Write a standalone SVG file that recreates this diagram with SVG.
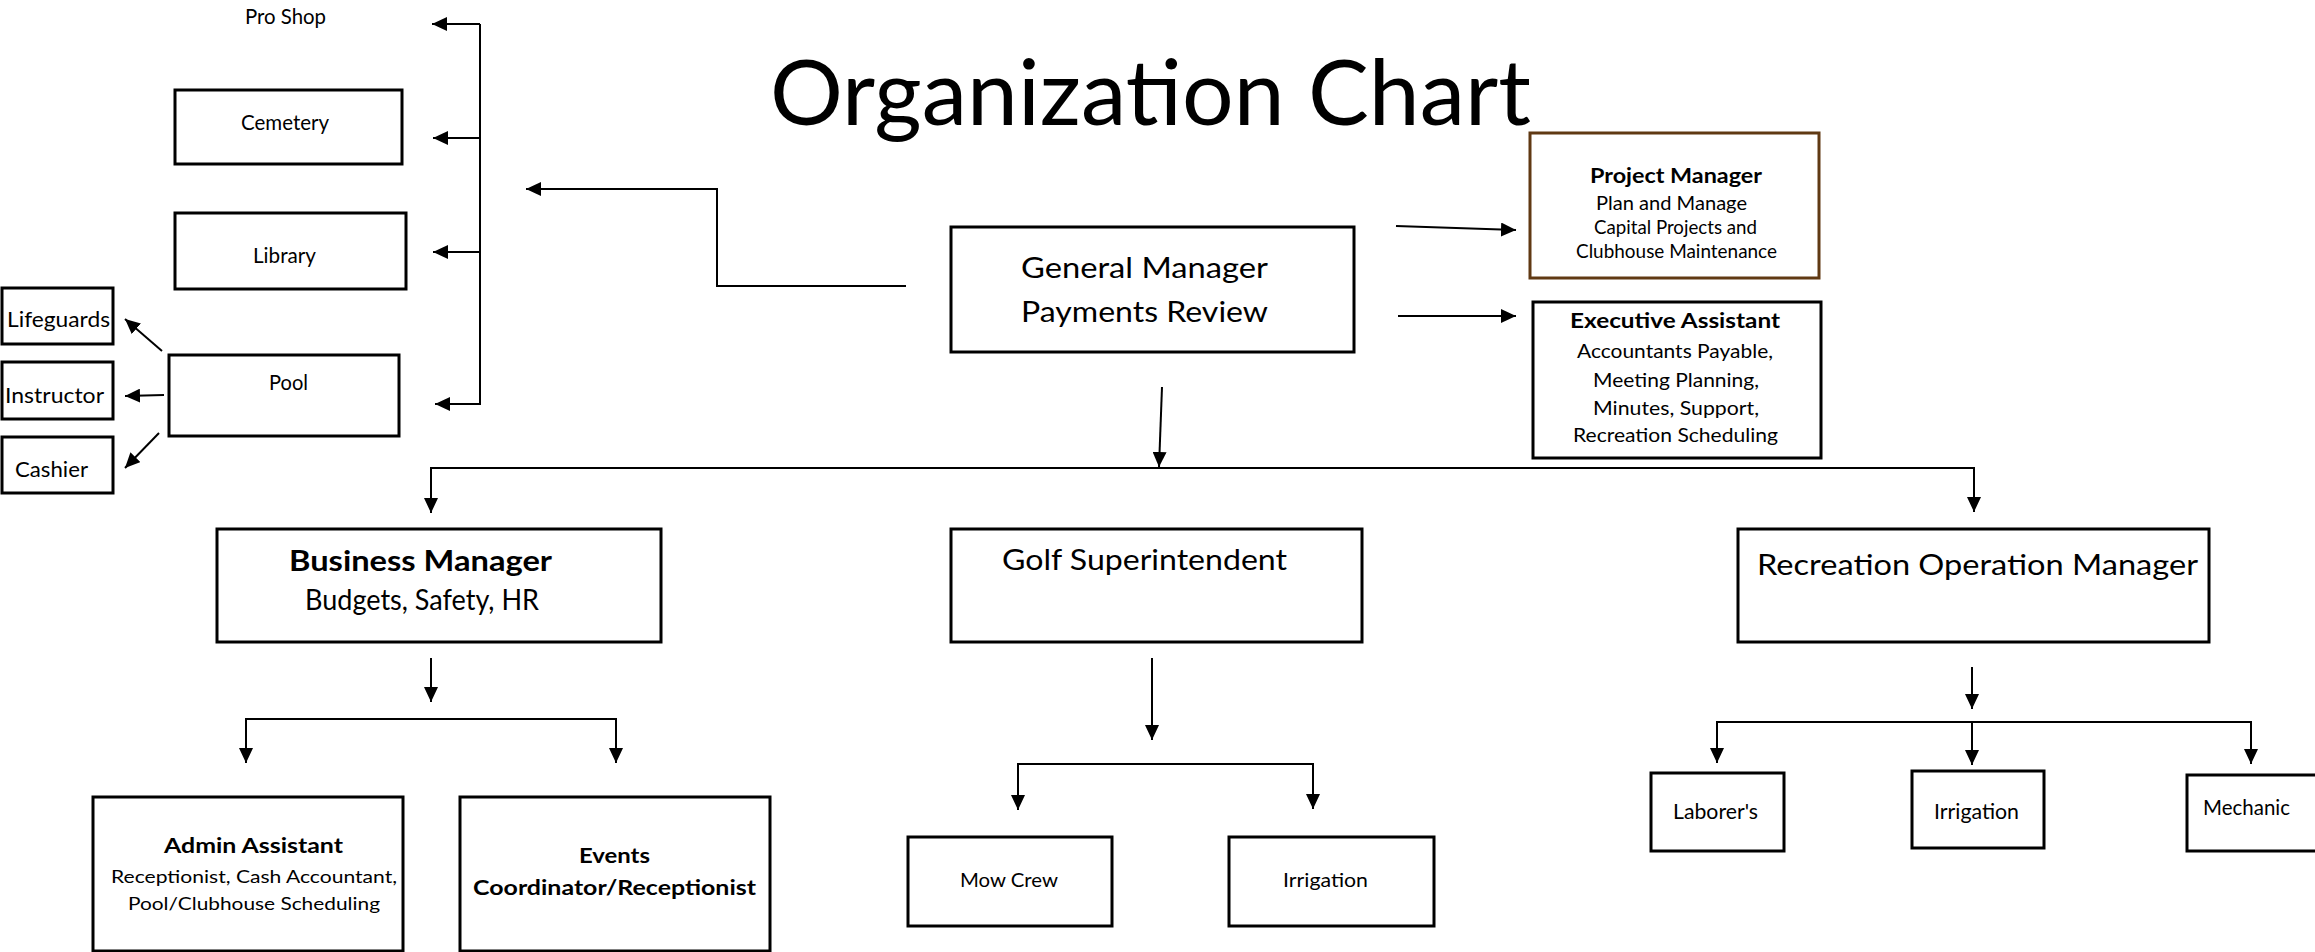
<svg xmlns="http://www.w3.org/2000/svg" width="2315" height="952" viewBox="0 0 2315 952">
<defs>
<style>
.box{fill:#fff;stroke:#000;stroke-width:3}
.pm{fill:#fff;stroke:#603913;stroke-width:3}
.con{fill:none;stroke:#000;stroke-width:2}
.arr{fill:none;stroke:#000;stroke-width:2;marker-end:url(#ah)}
text{font-family:Lato,"Open Sans","Liberation Sans",sans-serif;fill:#000}
.b{font-weight:bold}
</style>
<marker id="ah" markerWidth="16" markerHeight="14" refX="15" refY="7" orient="auto" markerUnits="userSpaceOnUse">
<path d="M0,0 L15,7 L0,14 z" fill="#000"/>
</marker>
</defs>
<rect width="2315" height="952" fill="#fff"/>

<g id="title"><text x="770" y="125" font-size="91" textLength="761" lengthAdjust="spacingAndGlyphs">Organization Chart</text></g>

<g id="connectors">
<line class="con" x1="480" y1="24" x2="480" y2="405"/>
<line class="arr" x1="480" y1="24" x2="432" y2="24"/>
<line class="arr" x1="480" y1="138" x2="433" y2="138"/>
<line class="arr" x1="480" y1="252" x2="433" y2="252"/>
<line class="arr" x1="480" y1="404" x2="435" y2="404"/>
<polyline class="arr" points="906,286 717,286 717,189 526,189"/>
<line class="arr" x1="162" y1="351" x2="125" y2="319"/>
<line class="arr" x1="164" y1="395" x2="125" y2="396"/>
<line class="arr" x1="159" y1="433" x2="125" y2="468"/>
<line class="arr" x1="1396" y1="226" x2="1516" y2="230"/>
<line class="arr" x1="1398" y1="316" x2="1516" y2="316"/>
<line class="arr" x1="1162" y1="387" x2="1159" y2="467"/>
<polyline class="con" points="431,513 431,468 1974,468 1974,512"/>
<line class="arr" x1="431" y1="468" x2="431" y2="513"/>
<line class="arr" x1="1974" y1="468" x2="1974" y2="512"/>
<line class="arr" x1="431" y1="658" x2="431" y2="702"/>
<polyline class="con" points="246,763 246,719 616,719 616,763"/>
<line class="arr" x1="246" y1="719" x2="246" y2="763"/>
<line class="arr" x1="616" y1="719" x2="616" y2="763"/>
<line class="arr" x1="1152" y1="658" x2="1152" y2="740"/>
<polyline class="con" points="1018,810 1018,764 1313,764 1313,809"/>
<line class="arr" x1="1018" y1="764" x2="1018" y2="810"/>
<line class="arr" x1="1313" y1="764" x2="1313" y2="809"/>
<line class="arr" x1="1972" y1="667" x2="1972" y2="709"/>
<polyline class="con" points="1717,763 1717,722 2251,722 2251,764"/>
<line class="arr" x1="1717" y1="722" x2="1717" y2="763"/>
<line class="arr" x1="1972" y1="722" x2="1972" y2="765"/>
<line class="arr" x1="2251" y1="722" x2="2251" y2="764"/>
</g>

<g id="proshop"><text x="245" y="24" font-size="21" textLength="81" lengthAdjust="spacingAndGlyphs">Pro Shop</text></g>
<g id="cemetery"><rect class="box" x="175" y="90" width="227" height="74"/><text x="241" y="130" font-size="21" textLength="88" lengthAdjust="spacingAndGlyphs">Cemetery</text></g>
<g id="library"><rect class="box" x="175" y="213" width="231" height="76"/><text x="253" y="263" font-size="21" textLength="63" lengthAdjust="spacingAndGlyphs">Library</text></g>
<g id="pool"><rect class="box" x="169" y="355" width="230" height="81"/><text x="269" y="390" font-size="21" textLength="39" lengthAdjust="spacingAndGlyphs">Pool</text></g>
<g id="lifeguards"><rect class="box" x="2" y="288" width="111" height="56"/><text x="7" y="327" font-size="22" textLength="103" lengthAdjust="spacingAndGlyphs">Lifeguards</text></g>
<g id="instructor"><rect class="box" x="2" y="362" width="111" height="57"/><text x="5" y="403" font-size="22" textLength="99" lengthAdjust="spacingAndGlyphs">Instructor</text></g>
<g id="cashier"><rect class="box" x="2" y="437" width="111" height="56"/><text x="15" y="477" font-size="22" textLength="73" lengthAdjust="spacingAndGlyphs">Cashier</text></g>

<g id="general-manager"><rect class="box" x="951" y="227" width="403" height="125"/>
<text x="1021" y="278" font-size="29" textLength="247" lengthAdjust="spacingAndGlyphs">General Manager</text>
<text x="1021" y="322" font-size="29" textLength="247" lengthAdjust="spacingAndGlyphs">Payments Review</text></g>

<g id="project-manager"><rect class="pm" x="1530" y="133" width="289" height="145"/>
<text class="b" x="1590" y="183" font-size="21" textLength="172" lengthAdjust="spacingAndGlyphs">Project Manager</text>
<text x="1596" y="210" font-size="19" textLength="151" lengthAdjust="spacingAndGlyphs">Plan and Manage</text>
<text x="1594" y="234" font-size="19" textLength="163" lengthAdjust="spacingAndGlyphs">Capital Projects and</text>
<text x="1576" y="258" font-size="19" textLength="201" lengthAdjust="spacingAndGlyphs">Clubhouse Maintenance</text></g>

<g id="executive-assistant"><rect class="box" x="1533" y="302" width="288" height="156"/>
<text class="b" x="1570" y="328" font-size="21" textLength="210" lengthAdjust="spacingAndGlyphs">Executive Assistant</text>
<text x="1577" y="358" font-size="19" textLength="196" lengthAdjust="spacingAndGlyphs">Accountants Payable,</text>
<text x="1593" y="387" font-size="19" textLength="166" lengthAdjust="spacingAndGlyphs">Meeting Planning,</text>
<text x="1593" y="415" font-size="19" textLength="166" lengthAdjust="spacingAndGlyphs">Minutes, Support,</text>
<text x="1573" y="442" font-size="19" textLength="205" lengthAdjust="spacingAndGlyphs">Recreation Scheduling</text></g>

<g id="business-manager"><rect class="box" x="217" y="529" width="444" height="113"/>
<text class="b" x="289" y="571" font-size="29" textLength="263" lengthAdjust="spacingAndGlyphs">Business Manager</text>
<text x="305" y="610" font-size="28" textLength="234" lengthAdjust="spacingAndGlyphs">Budgets, Safety, HR</text></g>

<g id="admin-assistant"><rect class="box" x="93" y="797" width="310" height="154"/>
<text class="b" x="164" y="853" font-size="21" textLength="179" lengthAdjust="spacingAndGlyphs">Admin Assistant</text>
<text x="111" y="883" font-size="18" textLength="286" lengthAdjust="spacingAndGlyphs">Receptionist, Cash Accountant,</text>
<text x="128" y="910" font-size="18" textLength="252" lengthAdjust="spacingAndGlyphs">Pool/Clubhouse Scheduling</text></g>

<g id="events-coordinator"><rect class="box" x="460" y="797" width="310" height="154"/>
<text class="b" x="579" y="863" font-size="21" textLength="71" lengthAdjust="spacingAndGlyphs">Events</text>
<text class="b" x="473" y="895" font-size="21" textLength="283" lengthAdjust="spacingAndGlyphs">Coordinator/Receptionist</text></g>

<g id="golf-superintendent"><rect class="box" x="951" y="529" width="411" height="113"/>
<text x="1002" y="570" font-size="28" textLength="285" lengthAdjust="spacingAndGlyphs">Golf Superintendent</text></g>

<g id="mow-crew"><rect class="box" x="908" y="837" width="204" height="89"/>
<text x="960" y="887" font-size="20" textLength="98" lengthAdjust="spacingAndGlyphs">Mow Crew</text></g>

<g id="golf-irrigation"><rect class="box" x="1229" y="837" width="205" height="89"/>
<text x="1283" y="887" font-size="20" textLength="85" lengthAdjust="spacingAndGlyphs">Irrigation</text></g>

<g id="recreation-operation-manager"><rect class="box" x="1738" y="529" width="471" height="113"/>
<text x="1757" y="575" font-size="28" textLength="441" lengthAdjust="spacingAndGlyphs">Recreation Operation Manager</text></g>

<g id="laborers"><rect class="box" x="1651" y="773" width="133" height="78"/>
<text x="1673" y="819" font-size="21" textLength="85" lengthAdjust="spacingAndGlyphs">Laborer's</text></g>

<g id="rec-irrigation"><rect class="box" x="1912" y="771" width="132" height="77"/>
<text x="1934" y="819" font-size="21" textLength="85" lengthAdjust="spacingAndGlyphs">Irrigation</text></g>

<g id="mechanic"><rect class="box" x="2187" y="775" width="140" height="76"/>
<text x="2203" y="815" font-size="21" textLength="87" lengthAdjust="spacingAndGlyphs">Mechanic</text></g>
</svg>
